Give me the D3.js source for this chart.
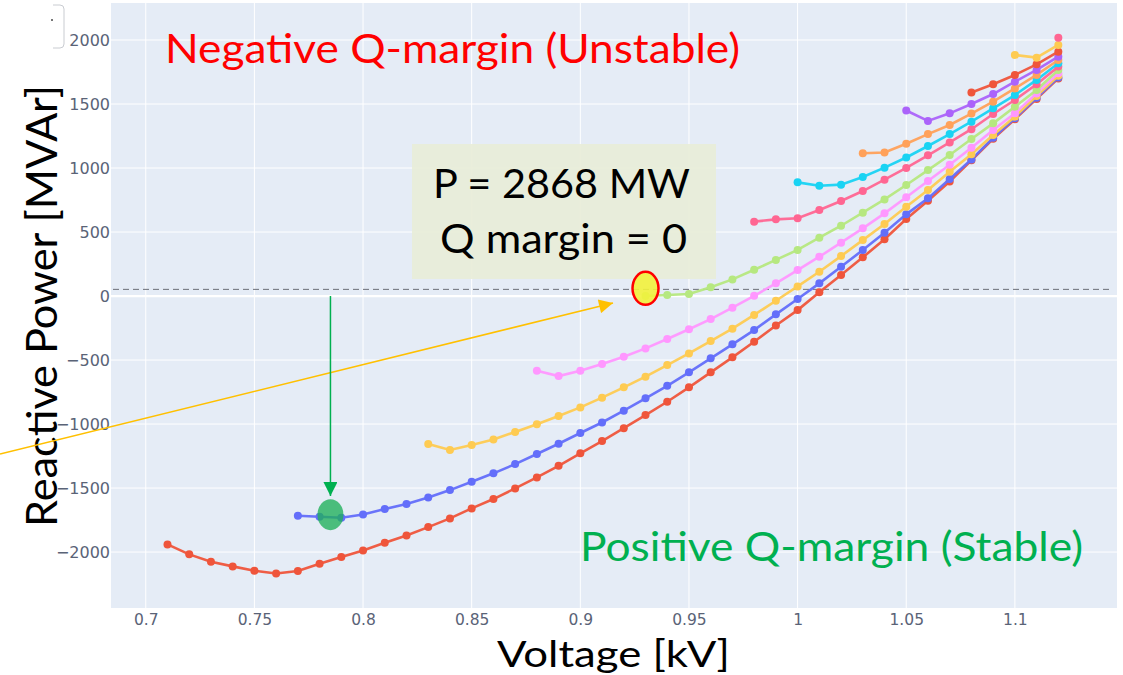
<!DOCTYPE html>
<html><head><meta charset="utf-8">
<script src="https://cdn.jsdelivr.net/npm/d3@7"></script>
<style>body{margin:0;background:#fff}svg{display:block}</style>
</head><body>
<svg id="c" width="1123" height="675"></svg>
<script>
// ---- data ----
const voltages = [0.71,0.72,0.73,0.74,0.75,0.76,0.77,0.78,0.79,0.80,0.81,0.82,0.83,0.84,0.85,0.86,0.87,0.88,0.89,0.90,0.91,0.92,0.93,0.94,0.95,0.96,0.97,0.98,0.99,1.00,1.01,1.02,1.03,1.04,1.05,1.06,1.07,1.08,1.09,1.10,1.11,1.12];
const xTicks = [0.7,0.75,0.8,0.85,0.9,0.95,1,1.05,1.1];
const yTicks = [-2000,-1500,-1000,-500,0,500,1000,1500,2000];
const seriesColors = ["#EF553B","#636EFA","#FECB52","#FF97FF","#B6E880","#FF6692","#19D3F3","#FFA15A","#AB63FA","#EF553B","#FECB52","#FF6692"];
// each series ends at 1.12 kV; values aligned to the last entries of `voltages`
const q1 = [-1940,-2018,-2076,-2112,-2146,-2167,-2148,-2091,-2039,-1987,-1927,-1870,-1805,-1737,-1659,-1586,-1503,-1417,-1326,-1229,-1133,-1032,-930,-826,-713,-596,-479,-357,-230,-110,29,164,302,443,602,745,895,1060,1228,1380,1540,1700];
const q2 = [-1716,-1724,-1732,-1706,-1664,-1625,-1573,-1516,-1451,-1385,-1313,-1234,-1154,-1070,-988,-896,-799,-701,-596,-487,-377,-266,-143,-23,99,229,359,495,638,763,914,1066,1236,1388,1548,1708];
const q3 = [-1155,-1203,-1164,-1120,-1062,-1002,-937,-870,-794,-713,-630,-539,-448,-352,-255,-148,-37,75,190,312,437,562,698,828,971,1107,1258,1401,1562,1721];
const q4 = [-583,-625,-583,-531,-474,-409,-336,-260,-180,-91,2,99,203,307,417,529,646,771,898,1025,1159,1297,1427,1583,1740];
const q5 = [0,8,16,68,130,205,282,360,456,549,651,755,867,984,1102,1227,1349,1479,1609,1766];
const q6 = [581,599,607,672,742,820,909,1001,1099,1200,1303,1422,1531,1654,1792];
const q7 = [888,862,870,930,1003,1082,1172,1265,1362,1466,1570,1688,1818];
const q8 = [1115,1121,1190,1265,1336,1425,1518,1622,1727,1844];
const q9 = [1449,1368,1427,1500,1578,1674,1766,1870];
const q10 = [1590,1654,1727,1810,1909];
const q11 = [1883,1862,1961];
const q12 = [2018];
const seriesValues = [q1,q2,q3,q4,q5,q6,q7,q8,q9,q10,q11,q12];
const marginLevel = 52;       // dashed reference line (MVAr)
const markedPoint = [0.93, 52]; // yellow ellipse
const stablePoint = [0.785, -1700]; // green ellipse

// ---- chart ----
const svg = d3.select("#c");
const L=111, R=1117, T=3, B=608;
const x = d3.scaleLinear().domain([0.684,1.147]).range([L,R]);
const y = d3.scaleLinear().domain([-2437,2289]).range([B,T]);

svg.append("rect").attr("x",L).attr("y",T).attr("width",R-L).attr("height",B-T).attr("fill","#E5ECF6");

// grid
svg.append("g").selectAll("line").data(xTicks).join("line")
  .attr("x1",d=>x(d)).attr("x2",d=>x(d)).attr("y1",T).attr("y2",B)
  .attr("stroke","#fff").attr("stroke-width",1);
svg.append("g").selectAll("line").data(yTicks).join("line")
  .attr("x1",L).attr("x2",R).attr("y1",d=>y(d)).attr("y2",d=>y(d))
  .attr("stroke","#fff").attr("stroke-width",d=>d===0?2.2:1);

// axes (tick labels)
const xAxis = d3.axisBottom(x).tickValues(xTicks).tickSize(0).tickPadding(0).tickFormat(d=>String(d));
const gx = svg.append("g").attr("transform",`translate(0,625)`).call(xAxis);
gx.select(".domain").remove();
gx.selectAll("text").attr("font-family","DejaVu Sans").attr("font-size",15.5).attr("fill","#5a6377").attr("dy","0");
const yAxis = d3.axisLeft(y).tickValues(yTicks).tickSize(0).tickPadding(0).tickFormat(d=>d3.format("d")(d).replace("-","\u2212"));
const gy = svg.append("g").attr("transform",`translate(${L-1},0)`).call(yAxis);
gy.select(".domain").remove();
gy.selectAll("text").attr("font-family","DejaVu Sans").attr("font-size",16).attr("fill","#5a6377");

// dashed margin line
svg.append("line").attr("x1",L+2).attr("x2",R-4).attr("y1",y(marginLevel)).attr("y2",y(marginLevel))
  .attr("stroke","#6b6f78").attr("stroke-width",1).attr("stroke-dasharray","6,4");

// series
const line = d3.line().x(d=>x(d[0])).y(d=>y(d[1]));
const gS = svg.append("g");
seriesValues.forEach((vals,i)=>{
  const vs = voltages.slice(voltages.length - vals.length);
  const pts = vals.map((q,j)=>[vs[j],q]);
  const g = gS.append("g");
  g.append("path").attr("d",line(pts)).attr("fill","none").attr("stroke",seriesColors[i]).attr("stroke-width",2.6).attr("opacity",0.95);
  g.selectAll("circle").data(pts).join("circle").attr("cx",d=>x(d[0])).attr("cy",d=>y(d[1])).attr("r",4).attr("fill",seriesColors[i]);
});

// annotation box
svg.append("rect").attr("x",412).attr("y",144).attr("width",304).attr("height",135).attr("fill","#E8EDD8").attr("opacity",0.92);
const big = (t,xp,yp,w,fs,col)=>svg.append("text").text(t).attr("x",xp).attr("y",yp)
  .attr("font-family","Lato, 'Open Sans', sans-serif").attr("font-size",fs).attr("fill",col)
  .attr("textLength",w).attr("lengthAdjust","spacingAndGlyphs");
big("P = 2868 MW",433,198,257,40,"#000");
big("Q margin = 0",440,253,247,40,"#000");
big("Negative Q-margin (Unstable)",165,63,575,40,"#FF0000");
big("Positive Q-margin (Stable)",580,561,503,40,"#00B050");
big("Voltage [kV]",497,667,233,37,"#000");
svg.append("text").text("Reactive Power [MVAr]").attr("transform","translate(57,527) rotate(-90)")
  .attr("font-family","Lato, 'Open Sans', sans-serif").attr("font-size",42).attr("fill","#000")
  .attr("textLength",442).attr("lengthAdjust","spacingAndGlyphs");

// markers / arrows
svg.append("ellipse").attr("cx",x(markedPoint[0])).attr("cy",y(markedPoint[1])-1).attr("rx",13).attr("ry",16.5)
  .attr("fill","#F2F23C").attr("fill-opacity",0.9).attr("stroke","#FF0000").attr("stroke-width",2.5);
svg.append("ellipse").attr("cx",x(stablePoint[0])).attr("cy",y(stablePoint[1])+1).attr("rx",13).attr("ry",15.5)
  .attr("fill","#1FAF5A").attr("fill-opacity",0.78);

const defs = svg.append("defs");
defs.append("marker").attr("id","ao").attr("viewBox","0 0 10 10").attr("refX",10).attr("refY",5)
  .attr("markerWidth",16).attr("markerHeight",14).attr("markerUnits","userSpaceOnUse").attr("orient","auto")
  .append("path").attr("d","M0,0 L10,5 L0,10 Z").attr("fill","#FFC000");
defs.append("marker").attr("id","ag").attr("viewBox","0 0 10 10").attr("refX",10).attr("refY",5)
  .attr("markerWidth",15).attr("markerHeight",14).attr("markerUnits","userSpaceOnUse").attr("orient","auto")
  .append("path").attr("d","M0,0 L10,5 L0,10 Z").attr("fill","#00B050");
svg.append("line").attr("x1",0).attr("y1",454).attr("x2",613).attr("y2",303)
  .attr("stroke","#FFC000").attr("stroke-width",1.5).attr("marker-end","url(#ao)");
svg.append("line").attr("x1",x(stablePoint[0])).attr("y1",y(0)).attr("x2",x(stablePoint[0])).attr("y2",496)
  .attr("stroke","#00B050").attr("stroke-width",1.5).attr("marker-end","url(#ag)");

// small bracket remnant top-left
svg.append("path").attr("d","M53,5 H60 Q64,5 64,9 V44 Q64,48 60,48 H53")
  .attr("fill","none").attr("stroke","#c9ccd1").attr("stroke-width",1);
svg.append("rect").attr("x",51).attr("y",19).attr("width",2).attr("height",2).attr("fill","#777");
</script>
</body></html>
